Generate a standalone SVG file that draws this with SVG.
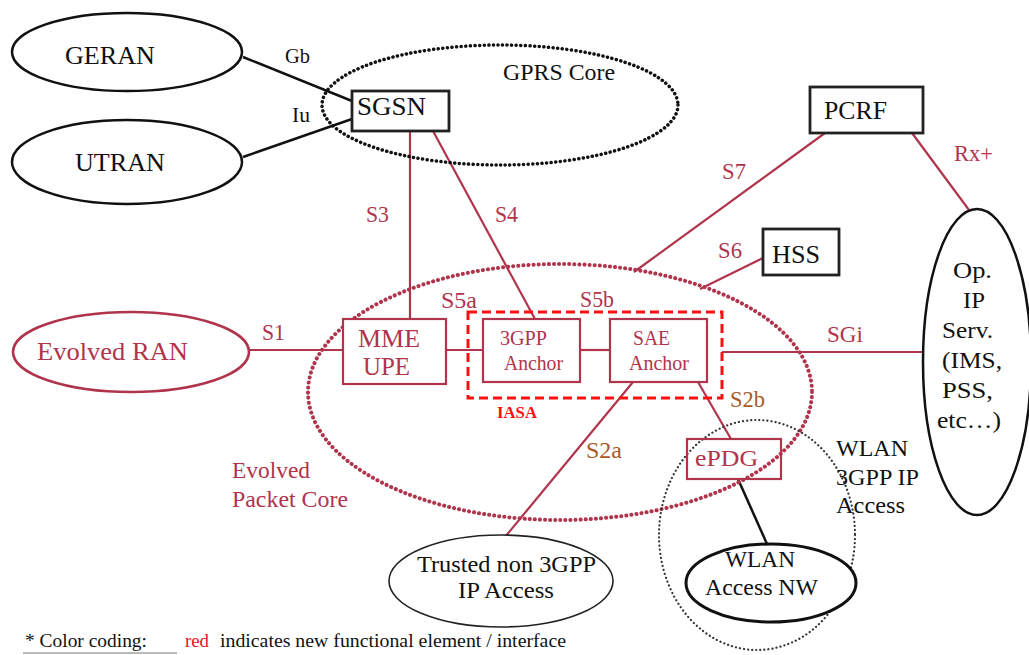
<svg xmlns="http://www.w3.org/2000/svg" width="1029" height="655" viewBox="0 0 1029 655">
<defs>
<style>
text{font-family:"Liberation Serif","Times New Roman",serif;}
.bk{fill:#111;}
.rd{fill:#b0344c;}
.br{fill:#a85a28;}
.big{font-size:26px;}
.med{font-size:24px;}
.lab{font-size:23px;}
.sm{font-size:21px;}
.cb{stroke:#111;stroke-width:2.5;fill:none;}
.cr{stroke:#b0344c;stroke-width:2.2;fill:none;}
.nb{stroke:#222;stroke-width:2.8;fill:#fff;}
.nbe{stroke:#111;stroke-width:2.5;fill:#fff;}
.nr{stroke:#b0344c;stroke-width:2.2;fill:#fff;}
</style>
</defs>
<rect width="1029" height="655" fill="#fff"/>

<g id="connectors">
<line class="cb" x1="243" y1="57" x2="352" y2="101"/>
<line class="cb" x1="243" y1="157" x2="352" y2="119"/>
<line class="cr" x1="410" y1="131" x2="410" y2="319"/>
<line class="cr" x1="433" y1="131" x2="535" y2="319"/>
<line class="cr" x1="825" y1="133" x2="634" y2="272"/>
<line class="cr" x1="763" y1="258" x2="700" y2="289"/>
<line class="cr" x1="912" y1="133" x2="969" y2="210"/>
<line class="cr" x1="248" y1="350" x2="343" y2="350"/>
<line class="cr" x1="446" y1="350" x2="483" y2="350"/>
<line class="cr" x1="580" y1="350" x2="610" y2="350"/>
<line class="cr" x1="722" y1="352" x2="923" y2="352"/>
<line class="cr" x1="633" y1="382" x2="505" y2="537"/>
<line class="cr" x1="698" y1="382" x2="731" y2="439"/>
<line class="cb" x1="738" y1="479" x2="767" y2="544"/>
<text class="bk sm" x="285" y="63" textLength="25" lengthAdjust="spacingAndGlyphs">Gb</text>
<text class="bk sm" x="292" y="122" textLength="18" lengthAdjust="spacingAndGlyphs">Iu</text>
<text class="rd lab" x="366" y="222" textLength="23" lengthAdjust="spacingAndGlyphs">S3</text>
<text class="rd lab" x="495" y="222" textLength="23" lengthAdjust="spacingAndGlyphs">S4</text>
<text class="rd lab" x="722" y="179" textLength="24" lengthAdjust="spacingAndGlyphs">S7</text>
<text class="rd lab" x="718" y="258" textLength="24" lengthAdjust="spacingAndGlyphs">S6</text>
<text class="rd lab" x="954" y="161" textLength="39" lengthAdjust="spacingAndGlyphs">Rx+</text>
<text class="rd lab" x="262" y="340" textLength="23" lengthAdjust="spacingAndGlyphs">S1</text>
<text class="rd lab" x="441" y="308" textLength="36" lengthAdjust="spacingAndGlyphs">S5a</text>
<text class="rd lab" x="580" y="307" textLength="34" lengthAdjust="spacingAndGlyphs">S5b</text>
<text class="rd lab" x="827" y="342" textLength="36" lengthAdjust="spacingAndGlyphs">SGi</text>
<text class="br lab" x="730" y="407" textLength="35" lengthAdjust="spacingAndGlyphs">S2b</text>
<text class="br lab" x="586" y="458" textLength="36" lengthAdjust="spacingAndGlyphs">S2a</text>
</g>

<g id="gprs-core">
<ellipse cx="500" cy="105" rx="178" ry="60" fill="none" stroke="#111" stroke-width="3.5" stroke-dasharray="0.1 4.5" stroke-linecap="round"/>
<text class="bk" style="font-size:23px" x="503" y="80" textLength="112" lengthAdjust="spacingAndGlyphs">GPRS Core</text>
</g>

<g id="evolved-packet-core">
<ellipse cx="560" cy="392" rx="252" ry="128" fill="none" stroke="#b0344c" stroke-width="4" stroke-dasharray="0.1 5" stroke-linecap="round"/>
<text class="rd" style="font-size:23px" x="232" y="478" textLength="78" lengthAdjust="spacingAndGlyphs">Evolved</text>
<text class="rd" style="font-size:23px" x="232" y="507" textLength="116" lengthAdjust="spacingAndGlyphs">Packet Core</text>
</g>

<g id="wlan-3gpp-ip-access">
<ellipse cx="757" cy="535" rx="98" ry="115" fill="none" stroke="#333" stroke-width="2.2" stroke-dasharray="0.1 4" stroke-linecap="round"/>
<text class="bk med" x="836" y="456" textLength="72" lengthAdjust="spacingAndGlyphs">WLAN</text>
<text class="bk med" x="836" y="485" textLength="83" lengthAdjust="spacingAndGlyphs">3GPP IP</text>
<text class="bk med" x="836" y="513" textLength="69" lengthAdjust="spacingAndGlyphs">Access</text>
</g>

<g id="geran">
<ellipse class="nbe" cx="127" cy="52" rx="115" ry="39"/>
<text class="bk big" x="65" y="64" textLength="90" lengthAdjust="spacingAndGlyphs">GERAN</text>
</g>

<g id="utran">
<ellipse class="nbe" cx="127" cy="162" rx="115" ry="42"/>
<text class="bk big" x="75" y="171" textLength="90" lengthAdjust="spacingAndGlyphs">UTRAN</text>
</g>

<g id="sgsn">
<rect class="nb" x="352" y="91" width="97" height="40"/>
<text class="bk big" x="357" y="115" textLength="69" lengthAdjust="spacingAndGlyphs">SGSN</text>
</g>

<g id="pcrf">
<rect class="nb" x="810" y="87" width="113" height="46"/>
<text class="bk big" x="824" y="119" textLength="63" lengthAdjust="spacingAndGlyphs">PCRF</text>
</g>

<g id="hss">
<rect class="nb" x="763" y="229" width="76" height="46"/>
<text class="bk big" x="772" y="263" textLength="48" lengthAdjust="spacingAndGlyphs">HSS</text>
</g>

<g id="op-ip-serv">
<ellipse class="nbe" cx="977" cy="362" rx="54" ry="153"/>
<text class="bk med" x="953" y="278" textLength="39" lengthAdjust="spacingAndGlyphs">Op.</text>
<text class="bk med" x="963" y="308" textLength="22" lengthAdjust="spacingAndGlyphs">IP</text>
<text class="bk med" x="942" y="338" textLength="51" lengthAdjust="spacingAndGlyphs">Serv.</text>
<text class="bk med" x="942" y="368" textLength="60" lengthAdjust="spacingAndGlyphs">(IMS,</text>
<text class="bk med" x="942" y="398" textLength="51" lengthAdjust="spacingAndGlyphs">PSS,</text>
<text class="bk med" x="937" y="428" textLength="64" lengthAdjust="spacingAndGlyphs">etc…)</text>
</g>

<g id="evolved-ran">
<ellipse cx="131" cy="352" rx="118" ry="40" fill="#fff" stroke="#b0344c" stroke-width="2.6"/>
<text class="rd big" x="37" y="360" textLength="151" lengthAdjust="spacingAndGlyphs">Evolved RAN</text>
</g>

<g id="mme-upe">
<rect class="nr" x="343" y="319" width="103" height="65"/>
<text class="rd" style="font-size:25px" x="358" y="347" textLength="62" lengthAdjust="spacingAndGlyphs">MME</text>
<text class="rd" style="font-size:25px" x="363" y="375" textLength="47" lengthAdjust="spacingAndGlyphs">UPE</text>
</g>

<g id="iasa">
<rect x="468" y="312" width="254" height="86" fill="none" stroke="#ff1010" stroke-width="3" stroke-dasharray="9 5"/>
<text x="497" y="418" textLength="40" lengthAdjust="spacingAndGlyphs" style="font-size:17px;font-weight:bold" fill="#ff1010">IASA</text>
</g>

<g id="3gpp-anchor">
<rect class="nr" x="483" y="319" width="97" height="63"/>
<text class="rd" style="font-size:20px" x="500" y="345" textLength="47" lengthAdjust="spacingAndGlyphs">3GPP</text>
<text class="rd" style="font-size:20px" x="504" y="370" textLength="59" lengthAdjust="spacingAndGlyphs">Anchor</text>
</g>

<g id="sae-anchor">
<rect class="nr" x="610" y="319" width="97" height="63"/>
<text class="rd" style="font-size:20px" x="633" y="345" textLength="37" lengthAdjust="spacingAndGlyphs">SAE</text>
<text class="rd" style="font-size:20px" x="629" y="370" textLength="60" lengthAdjust="spacingAndGlyphs">Anchor</text>
</g>

<g id="epdg">
<rect x="687" y="439" width="94" height="40" fill="none" stroke="#b0344c" stroke-width="2.2"/>
<text class="rd med" x="695" y="466" textLength="63" lengthAdjust="spacingAndGlyphs">ePDG</text>
</g>

<g id="trusted-non-3gpp">
<ellipse cx="501" cy="581" rx="112" ry="46" fill="#fff" stroke="#222" stroke-width="1.6"/>
<text class="bk med" x="417" y="572" textLength="179" lengthAdjust="spacingAndGlyphs">Trusted non 3GPP</text>
<text class="bk med" x="458" y="598" textLength="96" lengthAdjust="spacingAndGlyphs">IP Access</text>
</g>

<g id="wlan-access-nw">
<ellipse cx="771" cy="583" rx="85" ry="39" fill="#fff" stroke="#111" stroke-width="3"/>
<text class="bk med" x="725" y="567" textLength="70" lengthAdjust="spacingAndGlyphs">WLAN</text>
<text class="bk med" x="705" y="595" textLength="113" lengthAdjust="spacingAndGlyphs">Access NW</text>
</g>

<g id="legend">
<line x1="23" y1="653" x2="177" y2="653" stroke="#777" stroke-width="1.2"/>
<text class="bk" style="font-size:19px" x="25" y="647" textLength="122" lengthAdjust="spacingAndGlyphs">* Color coding:</text>
<text style="font-size:19px" fill="#e8102a" x="185" y="647" textLength="24" lengthAdjust="spacingAndGlyphs">red</text>
<text class="bk" style="font-size:19px" x="220" y="647" textLength="346" lengthAdjust="spacingAndGlyphs">indicates new functional element / interface</text>
</g>
</svg>
